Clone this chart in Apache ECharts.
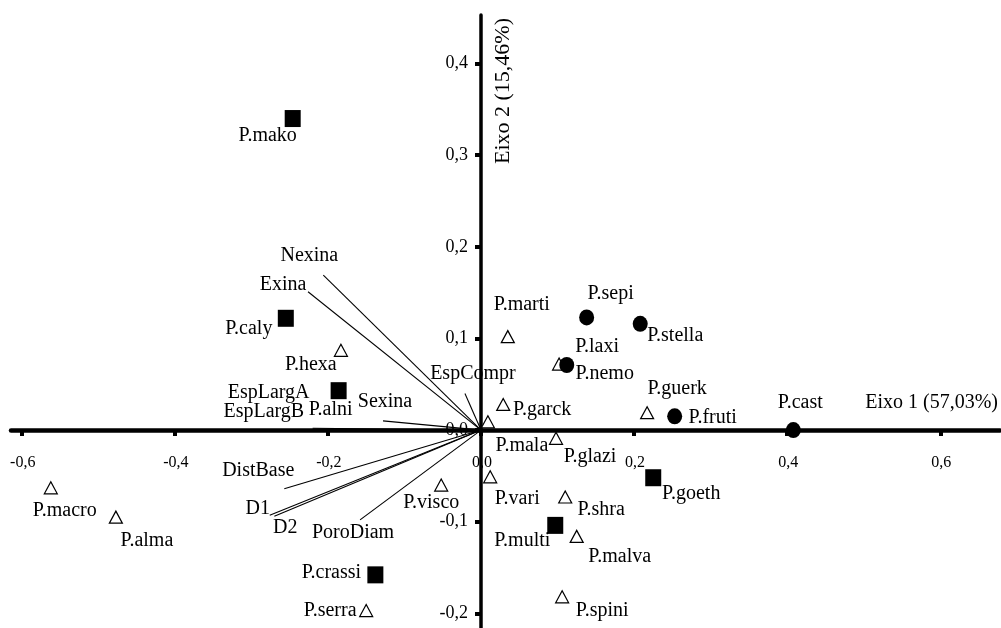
<!DOCTYPE html>
<html>
<head>
<meta charset="utf-8">
<script src="https://cdn.jsdelivr.net/npm/echarts@6/dist/echarts.min.js"></script>
<style>html,body{margin:0;padding:0;background:#fff}#c{width:1001px;height:628px}</style>
</head>
<body>
<div id="c"></div>
<script>
// ---- data ----
const speciesNames = ['P.mako','P.caly','P.hexa','P.alni','P.macro','P.alma','P.visco','P.crassi','P.serra','P.marti','P.sepi','P.stella','P.laxi','P.nemo','P.guerk','P.fruti','P.garck','P.mala','P.glazi','P.vari','P.shra','P.multi','P.malva','P.spini','P.goeth','P.cast'];
const eixo1 = [-0.246,-0.255,-0.183,-0.186,-0.562,-0.477,-0.052,-0.138,-0.150,0.035,0.138,0.208,0.102,0.112,0.217,0.253,0.029,0.009,0.098,0.012,0.110,0.097,0.125,0.106,0.225,0.408];
const eixo2 = [0.340,0.122,0.087,0.043,-0.063,-0.095,-0.060,-0.158,-0.197,0.102,0.123,0.116,0.072,0.071,0.019,0.015,0.028,0.009,-0.009,-0.051,-0.073,-0.104,-0.116,-0.182,-0.052,0.000];
const groups = ['sq','sq','tri','sq','tri','tri','tri','sq','tri','tri','ci','ci','tri','ci','tri','ci','tri','tri','tri','tri','tri','sq','tri','tri','sq','ci'];

const varNames = ['Nexina','Exina','EspCompr','Sexina','EspLargA','EspLargB','DistBase','D1','D2','PoroDiam'];
const varEixo1 = [-0.206,-0.226,-0.021,-0.128,-0.220,-0.221,-0.257,-0.276,-0.270,-0.158];
const varEixo2 = [0.169,0.151,0.040,0.010,0.002,0.000,-0.064,-0.093,-0.094,-0.098];

const xTicks = [-0.6,-0.4,-0.2,0.0,0.2,0.4,0.6];
const yTicks = [-0.2,-0.1,0.0,0.1,0.2,0.3,0.4];
const xTitle = 'Eixo 1 (57,03%)';
const yTitle = 'Eixo 2 (15,46%)';

// ---- label placement (styling) ----
const speciesLabelOffsets = [[-25,17],[-37,10],[-30,14],[-8,19],[14,23],[31,24],[-10,18],[-44,-2],[-36,0],[14,-32],[24,-24],[35,12],[38,-17],[38,9],[30,-24],[38,1],[39,5],[34,24],[34,18],[27,22],[36,13],[-33,15],[43,20],[40,14],[38,16],[7,-27]];
const varLabelOffsets = [[-14,-19],[-25,-7],[8,-20],[2,-19],[-44,-35],[-48,-18],[-26,-18],[-12,-7],[11,12],[-7,13]];

const FONT = 'Liberation Serif';
const fmt = v => (Math.abs(v) < 1e-9 ? 0 : v).toFixed(1).replace('.', ',');

function speciesData(g) {
  const out = [];
  speciesNames.forEach((n, i) => {
    if (groups[i] !== g) return;
    out.push({
      name: n,
      value: [eixo1[i], eixo2[i]],
      label: { offset: speciesLabelOffsets[i] }
    });
  });
  return out;
}

const labelStyle = {
  show: true, position: 'inside', formatter: '{b}', opacity: 1,
  fontFamily: FONT, fontSize: 20, color: '#000'
};
const hiddenItem = { color: 'rgba(0,0,0,0)', opacity: 1 };

const chart = echarts.init(document.getElementById('c'), null, { renderer: 'canvas' });
chart.setOption({
  animation: false,
  backgroundColor: '#fff',
  grid: { left: 11, right: 1, top: 15, bottom: 0, containLabel: false, outerBoundsMode: 'none' },
  xAxis: {
    type: 'value', min: -0.614, max: 0.678,
    splitLine: { show: false },
    axisLine: { onZero: true, lineStyle: { color: '#000', width: 4.5 } },
    axisTick: { show: true, inside: false, length: 6, customValues: xTicks, lineStyle: { color: '#000', width: 4 } },
    axisLabel: { show: false }
  },
  yAxis: {
    type: 'value', min: -0.216, max: 0.453,
    splitLine: { show: false },
    axisLine: { onZero: true, lineStyle: { color: '#000', width: 3.5 } },
    axisTick: { show: true, inside: false, length: 6, customValues: yTicks, lineStyle: { color: '#000', width: 4 } },
    axisLabel: { show: false }
  },
  graphic: [
    { type: 'text', x: 998, y: 403, style: { text: xTitle, fontFamily: FONT, fontSize: 20, fill: '#000', align: 'right', verticalAlign: 'middle' } },
    { type: 'text', x: 503, y: 91, rotation: Math.PI / 2, style: { text: yTitle, fontFamily: FONT, fontSize: 22, fill: '#000', align: 'center', verticalAlign: 'middle' } }
  ],
  series: [
    {
      type: 'lines', coordinateSystem: 'cartesian2d', z: 3,
      lineStyle: { color: '#000', width: 1.1, opacity: 1 },
      data: varNames.map((n, i) => ({ coords: [[0, 0], [varEixo1[i], varEixo2[i]]] }))
    },
    {
      // x tick labels, placed on the x axis through the axis scale
      type: 'scatter', z: 2, symbolSize: 0.1, silent: true,
      itemStyle: hiddenItem,
      label: { show: true, position: 'inside', offset: [1, 33], opacity: 1, formatter: p => fmt(p.value[0]), fontFamily: FONT, fontSize: 16, color: '#000' },
      data: xTicks.map(v => [v, 0])
    },
    {
      // y tick labels
      type: 'scatter', z: 2, symbolSize: 0.1, silent: true,
      itemStyle: hiddenItem,
      label: { show: true, position: 'left', distance: 13, opacity: 1, formatter: p => fmt(p.value[1]), fontFamily: FONT, fontSize: 18, color: '#000' },
      data: yTicks.map(v => [0, v])
    },
    {
      type: 'scatter', z: 4, symbolSize: 0.1,
      itemStyle: hiddenItem,
      label: labelStyle,
      data: varNames.map((n, i) => ({ name: n, value: [varEixo1[i], varEixo2[i]], label: { offset: varLabelOffsets[i] } }))
    },
    {
      type: 'scatter', z: 5, symbol: 'triangle', symbolSize: [13, 12],
      itemStyle: { color: '#fff', borderColor: '#000', borderWidth: 1.2, opacity: 1 },
      label: labelStyle, data: speciesData('tri')
    },
    {
      type: 'scatter', z: 5, symbol: 'rect', symbolSize: [16, 17],
      itemStyle: { color: '#000', opacity: 1 },
      label: labelStyle, data: speciesData('sq')
    },
    {
      type: 'scatter', z: 5, symbol: 'circle', symbolSize: [15, 16],
      itemStyle: { color: '#000', opacity: 1 },
      label: labelStyle, data: speciesData('ci')
    }
  ]
});
</script>
</body>
</html>
